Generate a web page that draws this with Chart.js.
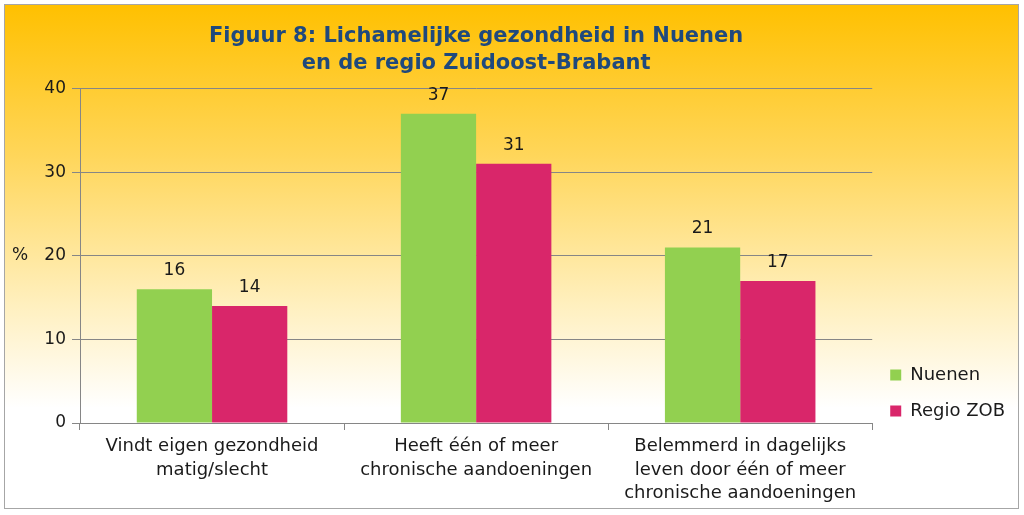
<!DOCTYPE html>
<html>
	<head>
		<script src="https://cdn.jsdelivr.net/npm/chart.js@4"></script>
		<style>
			html, body { margin: 0; padding: 0; background: #fff; }
			#wrap { width: 1024px; height: 515px; }
		</style>
	</head>
	<body>
		<div id="wrap"><canvas id="myChart"></canvas></div>
		<script>
			// Data
			let categories = [
				["Vindt eigen gezondheid", "matig/slecht"],
				["Heeft één of meer", "chronische aandoeningen"],
				["Belemmerd in dagelijks", "leven door één of meer", "chronische aandoeningen"]
			];
			let nuenen = [16, 37, 21];
			let regioZOB = [14, 31, 17];
			let titleLines = ["Figuur 8: Lichamelijke gezondheid in Nuenen", "en de regio Zuidoost-Brabant"];

			let fontName = "'DejaVu Sans', Verdana, sans-serif";
			let gridColor = "#868686";

			// gradient background and frame
			let backgroundPlugin = {
				id: 'bg',
				beforeDraw(chart) {
					let c = chart.ctx;
					c.save();
					c.fillStyle = '#ffffff';
					c.fillRect(0, 0, chart.width, chart.height);
					let g = c.createLinearGradient(0, 4, 0, 509);
					g.addColorStop(0, '#ffc000');
					g.addColorStop(0.3, '#ffd65a');
					g.addColorStop(0.6, '#fff0c0');
					g.addColorStop(0.8, '#ffffff');
					g.addColorStop(1, '#ffffff');
					c.fillStyle = g;
					c.fillRect(4, 4, 1015, 505);
					c.strokeStyle = '#a6a6a6';
					c.lineWidth = 1;
					c.strokeRect(4.5, 4.5, 1014, 504);
					c.restore();
				}
			};

			// nudge the legend a bit lower, like in the original
			let legendShift = {
				id: 'legendShift',
				afterLayout(chart) {
					chart.legend.top += 15;
					chart.legend.bottom += 15;
				}
			};

			// values above the bars and the "%" axis label
			let labelPlugin = {
				id: 'labels',
				afterDatasetsDraw(chart) {
					let c = chart.ctx;
					c.save();
					c.font = "17px " + fontName;
					c.fillStyle = '#1a1a1a';
					c.textAlign = 'center';
					c.textBaseline = 'bottom';
					chart.data.datasets.forEach(function(ds, i) {
						chart.getDatasetMeta(i).data.forEach(function(bar, j) {
							c.fillText(ds.data[j], bar.x, bar.y - 10);
						});
					});
					let y = chart.scales.y;
					c.textAlign = 'left';
					c.textBaseline = 'middle';
					c.fillText('%', 12, y.getPixelForValue(20));
					c.restore();
				}
			};

			let ctx = document.getElementById('myChart').getContext('2d');

			let chart = new Chart(ctx, {
				type: 'bar',
				data: {
					labels: categories,
					datasets: [{
						label: "Nuenen",
						backgroundColor: '#92d050',
						data: nuenen
					}, {
						label: "Regio ZOB",
						backgroundColor: '#d9266a',
						data: regioZOB
					}]
				},
				options: {
					responsive: true,
					maintainAspectRatio: false,
					animation: false,
					categoryPercentage: 0.57,
					barPercentage: 1,
					layout: { padding: { left: 4, right: 9, top: 8, bottom: 6 } },
					plugins: {
						title: {
							display: true,
							text: titleLines,
							fullSize: false,
							color: '#1f497d',
							font: { family: fontName, size: 21, weight: 'bold', lineHeight: 1.3 },
							padding: { top: 15, bottom: 11 }
						},
						legend: {
							position: 'right',
							align: 'end',
							fullSize: false,
							labels: {
								color: '#1a1a1a',
								font: { family: fontName, size: 18 },
								boxWidth: 11,
								boxHeight: 11,
								padding: 18
							}
						},
						tooltip: { enabled: false }
					},
					scales: {
						x: {
							grid: { drawOnChartArea: false, color: gridColor, tickLength: 7 },
							border: { color: gridColor },
							ticks: { color: '#1a1a1a', font: { family: fontName, size: 18, lineHeight: 1.3 }, maxRotation: 0, padding: 5 },
							afterFit(s) { s.height = 86; }
						},
						y: {
							min: 0,
							max: 40,
							ticks: { stepSize: 10, color: '#1a1a1a', font: { family: fontName, size: 17 }, padding: 6 },
							grid: { color: gridColor, tickLength: 8 },
							border: { color: gridColor },
							afterFit(s) { s.width = 76; }
						}
					}
				},
				plugins: [backgroundPlugin, legendShift, labelPlugin]
			});
		</script>
	</body>
</html>
